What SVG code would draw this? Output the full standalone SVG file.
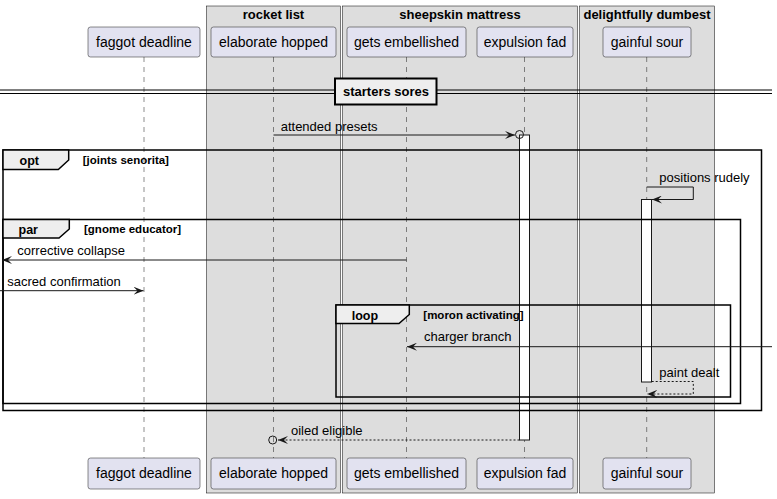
<svg xmlns="http://www.w3.org/2000/svg" width="777" height="499" viewBox="0 0 777 499">
<defs>
<style>
text{font-family:"Liberation Sans",Arial,sans-serif;fill:#000}
.grp{fill:#DDDDDD;stroke:#000;stroke-width:0.5}
.gt{font-size:13px;font-weight:bold;text-anchor:middle}
.pb{fill:#E2E2F0;stroke:#181818;stroke-width:0.5}
.pt{font-size:14px;text-anchor:middle}
.life{stroke:#181818;stroke-width:0.5;stroke-dasharray:5 5;fill:none}
.act{fill:#FFFFFF;stroke:#181818;stroke-width:1}
.frame{fill:none;stroke:#000;stroke-width:1.5}
.tab{fill:#EEEEEE;stroke:#000;stroke-width:1.5}
.fl{font-size:12.5px;font-weight:bold}
.fg{font-size:11.5px;font-weight:bold}
.msg{stroke:#181818;stroke-width:1;fill:none}
.dash{stroke-dasharray:2 2}
.mt{font-size:13px}
</style>
<marker id="ah" viewBox="0 0 10 8" refX="10" refY="4" markerWidth="10" markerHeight="8" markerUnits="userSpaceOnUse" orient="auto">
<path d="M0,0 L10,4 L0,8 L4,4 Z" fill="#181818"/>
</marker>
</defs>
<rect width="777" height="499" fill="#FFFFFF"/>
<g id="box-rocket-list">
<rect class="grp" x="206.5" y="6" width="134" height="487"/>
<text class="gt" x="273.5" y="19">rocket list</text>
</g>
<g id="box-sheepskin-mattress">
<rect class="grp" x="342.5" y="6" width="235" height="487"/>
<text class="gt" x="460" y="19">sheepskin mattress</text>
</g>
<g id="box-delightfully-dumbest">
<rect class="grp" x="579.5" y="6" width="135" height="487"/>
<text class="gt" x="647" y="19">delightfully dumbest</text>
</g>
<g id="lifelines">
<line class="life" x1="144" y1="57" x2="144" y2="458"/>
<line class="life" x1="273.5" y1="57" x2="273.5" y2="458"/>
<line class="life" x1="406.5" y1="57" x2="406.5" y2="458"/>
<line class="life" x1="524.5" y1="57" x2="524.5" y2="458"/>
<line class="life" x1="646.7" y1="57" x2="646.7" y2="458"/>
</g>
<g id="faggot-deadline">
<rect class="pb" x="88" y="27" width="112" height="30" rx="2.5"/>
<text class="pt" x="144" y="47">faggot deadline</text>
<rect class="pb" x="88" y="458" width="112" height="31" rx="2.5"/>
<text class="pt" x="144" y="478">faggot deadline</text>
</g>
<g id="elaborate-hopped">
<rect class="pb" x="211" y="27" width="125" height="30" rx="2.5"/>
<text class="pt" x="273.5" y="47">elaborate hopped</text>
<rect class="pb" x="211" y="458" width="125" height="31" rx="2.5"/>
<text class="pt" x="273.5" y="478">elaborate hopped</text>
</g>
<g id="gets-embellished">
<rect class="pb" x="347" y="27" width="119" height="30" rx="2.5"/>
<text class="pt" x="406.5" y="47">gets embellished</text>
<rect class="pb" x="347" y="458" width="119" height="31" rx="2.5"/>
<text class="pt" x="406.5" y="478">gets embellished</text>
</g>
<g id="expulsion-fad">
<rect class="pb" x="477" y="27" width="96" height="30" rx="2.5"/>
<text class="pt" x="525" y="47">expulsion fad</text>
<rect class="pb" x="477" y="458" width="96" height="31" rx="2.5"/>
<text class="pt" x="525" y="478">expulsion fad</text>
<rect class="act" x="519.5" y="135" width="10" height="305"/>
</g>
<g id="gainful-sour">
<rect class="pb" x="603" y="27" width="88" height="30" rx="2.5"/>
<text class="pt" x="647" y="47">gainful sour</text>
<rect class="pb" x="603" y="458" width="88" height="31" rx="2.5"/>
<text class="pt" x="647" y="478">gainful sour</text>
<rect class="act" x="641.5" y="199.5" width="10" height="182.5"/>
</g>
<g id="divider-starters-sores">
<line x1="0" y1="90" x2="772" y2="90" stroke="#000" stroke-width="1"/>
<line x1="0" y1="93.5" x2="772" y2="93.5" stroke="#000" stroke-width="1"/>
<rect x="335" y="78.5" width="101.5" height="26" fill="#EEEEEE" stroke="#000" stroke-width="2"/>
<text class="gt" x="386" y="96">starters sores</text>
</g>
<g id="fragment-opt">
<rect class="frame" x="3" y="150" width="758.5" height="260.5"/>
<path class="tab" d="M3,150 H68.7 V160 L58.3,169.5 H3 Z"/>
<text class="fl" x="19.5" y="164.5">opt</text>
<text class="fg" x="82.7" y="164">[joints senorita]</text>
</g>
<g id="fragment-par">
<rect class="frame" x="3" y="219.5" width="737.5" height="184"/>
<path class="tab" d="M3,219.5 H69.3 V229 L59,238 H3 Z"/>
<text class="fl" x="18.5" y="234">par</text>
<text class="fg" x="84" y="233">[gnome educator]</text>
</g>
<g id="fragment-loop">
<rect class="frame" x="336" y="305" width="394.5" height="92"/>
<path class="tab" d="M336,305 H409.3 V314.5 L399,323.5 H336 Z"/>
<text class="fl" x="351.7" y="320">loop</text>
<text class="fg" x="423.3" y="319">[moron activating]</text>
</g>
<g id="connectors">
<line class="msg" x1="273.5" y1="135" x2="515" y2="135" marker-end="url(#ah)"/>
<circle cx="519.5" cy="134.5" r="4" fill="none" stroke="#181818" stroke-width="1"/>
<text class="mt" x="280.7" y="130.5">attended presets</text>
<polyline class="msg" points="646.7,187 693.3,187 693.3,199.5 652,199.5" marker-end="url(#ah)"/>
<text class="mt" x="659.3" y="182">positions rudely</text>
<line class="msg" x1="406.5" y1="260" x2="2" y2="260" marker-end="url(#ah)"/>
<text class="mt" x="17.3" y="255">corrective collapse</text>
<line class="msg" x1="0" y1="290.7" x2="143.5" y2="290.7" marker-end="url(#ah)"/>
<text class="mt" x="7.3" y="285.7">sacred confirmation</text>
<line class="msg" x1="772" y1="346.7" x2="407" y2="346.7" marker-end="url(#ah)"/>
<text class="mt" x="424" y="340.7">charger branch</text>
<polyline class="msg dash" points="651.7,381.5 693.3,381.5 693.3,394 647.2,394" marker-end="url(#ah)"/>
<text class="mt" x="659.3" y="377">paint dealt</text>
<line class="msg dash" x1="519.5" y1="440" x2="278" y2="440" marker-end="url(#ah)"/>
<circle cx="272.7" cy="440" r="4" fill="none" stroke="#181818" stroke-width="1"/>
<text class="mt" x="291" y="435">oiled eligible</text>
</g>
</svg>
